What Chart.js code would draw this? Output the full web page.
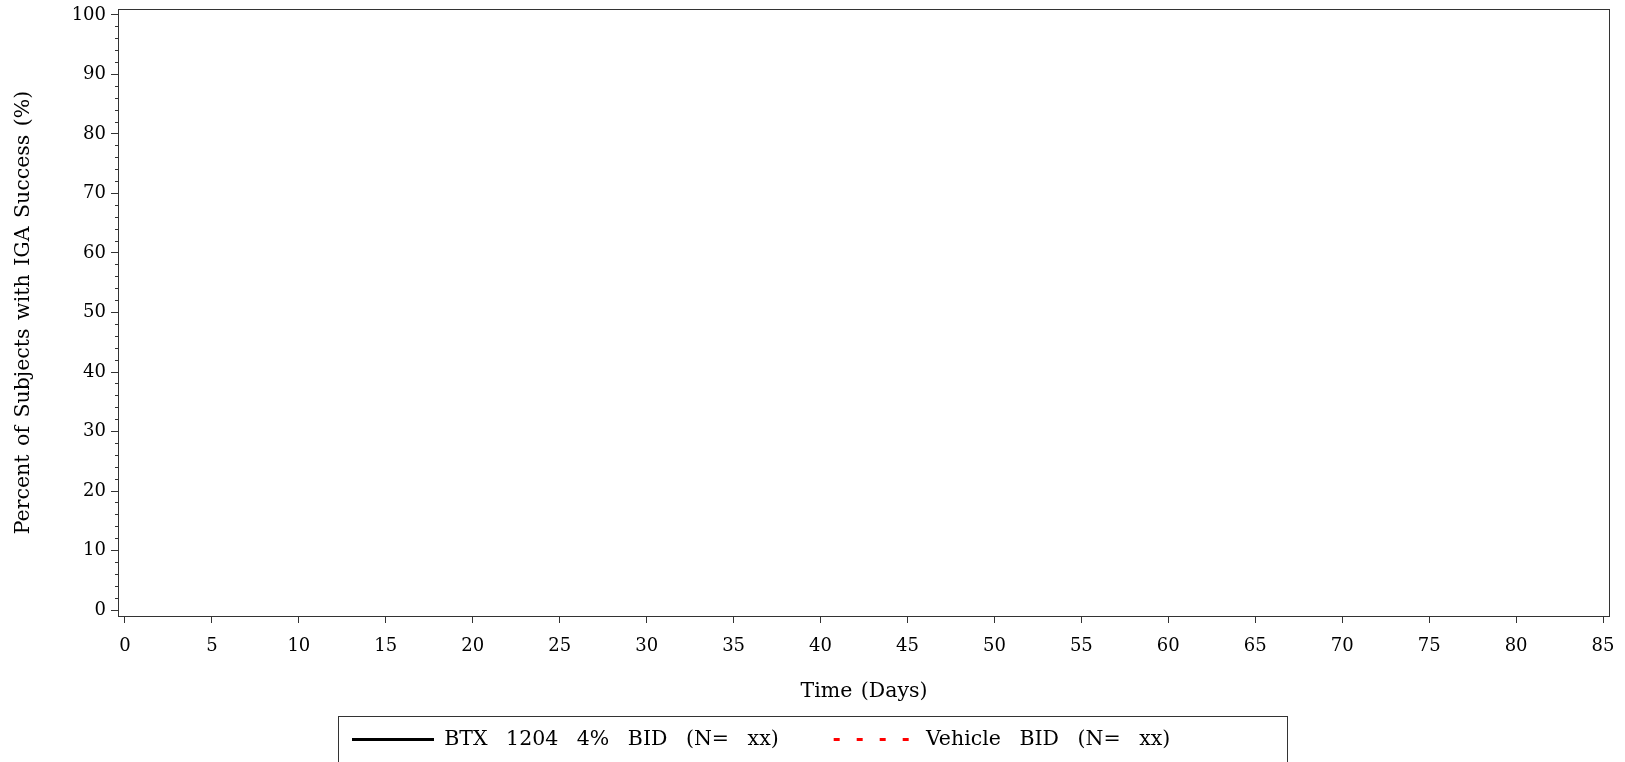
<!DOCTYPE html>
<html>
<head>
<meta charset="utf-8">
<title>IGA success over time</title>
<script src="https://cdn.jsdelivr.net/npm/chart.js@4.4.1/dist/chart.umd.min.js"></script>
<style>
    html, body { margin: 0; padding: 0; background: #fff; }
    canvas { display: block; }
</style>
</head>
<body>
<canvas id="iga-chart" width="1625" height="762"></canvas>
<script>
// table shell: no subject data plotted yet
const studyDays = [];
const btxSuccess = [];
const vehicleSuccess = [];

const seriesLabels = ['BTX 1204 4% BID (N= xx)', 'Vehicle BID (N= xx)'];

const xTicks = [0, 5, 10, 15, 20, 25, 30, 35, 40, 45, 50, 55, 60, 65, 70, 75, 80, 85];
const yTicks = [0, 10, 20, 30, 40, 50, 60, 70, 80, 90, 100];
const yMinorTicks = [0, 2, 4, 6, 8, 10, 12, 14, 16, 18, 20, 22, 24, 26, 28, 30, 32, 34, 36, 38,
    40, 42, 44, 46, 48, 50, 52, 54, 56, 58, 60, 62, 64, 66, 68, 70, 72, 74, 76, 78, 80,
    82, 84, 86, 88, 90, 92, 94, 96, 98, 100];

const axisColor = '#333';
const legendFrameWidth = 949;
const labelFont = { size: 20.5 };

Chart.defaults.font.family = "'DejaVu Serif', 'Liberation Serif', serif";
Chart.defaults.font.size = 18;
Chart.defaults.color = '#000';

const toPoints = (days, values) => days.map((d, i) => ({ x: d, y: values[i] }));
const tickList = list => scale => { scale.ticks = list.map(v => ({ value: v })); };

// legend text in the original has wider word gaps than the axis titles
function withSpacing(fn, gap) {
    return function (...args) {
        const c = this.ctx;
        const prev = c.wordSpacing;
        c.wordSpacing = gap;
        const out = fn.apply(this, args);
        c.wordSpacing = prev;
        return out;
    };
}

const framePlugin = {
    id: 'framePlugin',
    beforeLayout(chart) {
        chart.ctx.wordSpacing = '2px';
        const lg = chart.legend;
        if (lg && !lg._spaced) {
            lg.fit = withSpacing(lg.fit, '12px');
            lg.draw = withSpacing(lg.draw, '12px');
            lg._spaced = true;
        }
    },
    beforeDraw(chart) { chart.ctx.wordSpacing = '2px'; },
    afterLayout(chart) {
        const lg = chart.legend;
        const pad = lg.options.labels.padding;
        const frameLeft = (chart.width - legendFrameWidth) / 2;
        lg.top = chart.scales.x.bottom + 13.25 - pad;
        lg.bottom = chart.height;
        lg.left = frameLeft + 14 - pad;
        lg.right = chart.width;
    },
    afterDraw(chart) {
        const { ctx, chartArea: a } = chart;
        const frameLeft = Math.round((chart.width - legendFrameWidth) / 2);
        ctx.save();
        ctx.strokeStyle = axisColor;
        ctx.lineWidth = 1;
        ctx.strokeRect(a.left + 0.5, a.top + 0.5, a.right - a.left - 1, a.bottom - a.top);
        ctx.strokeRect(frameLeft + 0.5, chart.scales.x.bottom + 0.5, legendFrameWidth, 100);
        ctx.restore();
    }
};

const ctx = document.getElementById('iga-chart').getContext('2d');
new Chart(ctx, {
    type: 'line',
    data: {
        datasets: [{
            label: seriesLabels[0],
            data: toPoints(studyDays, btxSuccess),
            borderColor: '#000',
            backgroundColor: '#000',
            borderWidth: 3,
            pointRadius: 0
        }, {
            label: seriesLabels[1],
            data: toPoints(studyDays, vehicleSuccess),
            borderColor: '#ff0000',
            backgroundColor: '#ff0000',
            borderDash: [6, 17],
            borderWidth: 3,
            pointRadius: 0
        }]
    },
    options: {
        responsive: false,
        animation: false,
        events: [],
        layout: { padding: { top: 9, right: 15, bottom: 0, left: 0 } },
        plugins: {
            tooltip: { enabled: false },
            legend: {
                position: 'bottom',
                align: 'start',
                maxHeight: 46,
                labels: {
                    usePointStyle: true,
                    pointStyle: 'line',
                    pointStyleWidth: 82,
                    boxHeight: 20.5,
                    padding: 55,
                    color: '#000',
                    font: labelFont,
                    generateLabels(chart) {
                        const items = Chart.defaults.plugins.legend.labels.generateLabels(chart);
                        return items.map(item => {
                            const ds = chart.data.datasets[item.datasetIndex];
                            item.lineDash = ds.borderDash || [];
                            item.lineWidth = ds.borderWidth;
                            item.strokeStyle = ds.borderColor;
                            return item;
                        });
                    }
                }
            }
        },
        scales: {
            x: {
                type: 'linear',
                min: -0.4,
                max: 85.4,
                afterBuildTicks: tickList(xTicks),
                afterFit: s => { s.paddingLeft = 0; s.paddingRight = 0; },
                grid: { drawOnChartArea: false, tickLength: 7, tickColor: axisColor },
                border: { display: false },
                ticks: { padding: 12.7, maxRotation: 0, autoSkip: false },
                title: { display: true, text: 'Time (Days)', font: labelFont, padding: { top: 9.7, bottom: 11.7 } }
            },
            y: {
                type: 'linear',
                position: 'left',
                min: -1,
                max: 101,
                afterBuildTicks: tickList(yTicks),
                afterFit: s => { s.width = 118; s.paddingTop = 0; s.paddingBottom = 0; },
                grid: { drawOnChartArea: false, tickLength: 7, tickColor: axisColor },
                border: { display: false },
                ticks: { padding: 5, autoSkip: false },
                title: {
                    display: true,
                    text: 'Percent of Subjects with IGA Success (%)',
                    font: labelFont,
                    padding: { top: 11.7, bottom: 0 }
                }
            },
            yMinor: {
                type: 'linear',
                axis: 'y',
                position: { x: -0.4 },
                min: -1,
                max: 101,
                afterBuildTicks: tickList(yMinorTicks),
                afterFit: s => { s.paddingTop = 0; s.paddingBottom = 0; },
                grid: { drawOnChartArea: false, tickLength: 3, tickColor: axisColor },
                border: { display: false },
                ticks: { display: false }
            }
        }
    },
    plugins: [framePlugin]
});
</script>
</body>
</html>
